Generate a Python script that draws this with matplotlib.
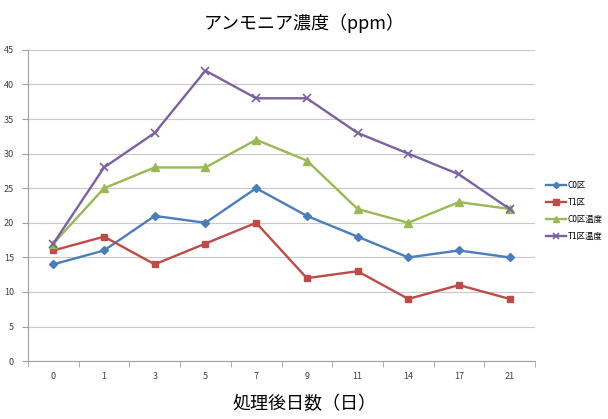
import matplotlib
matplotlib.use("Agg")
import matplotlib.pyplot as plt
import numpy as np

days = ["0", "1", "3", "5", "7", "9", "11", "14", "17", "21"]
c0 = [14, 16, 21, 20, 25, 21, 18, 15, 16, 15]
t1 = [16, 18, 14, 17, 20, 12, 13, 9, 11, 9]
c0_temp = [17, 25, 28, 28, 32, 29, 22, 20, 23, 22]
t1_temp = [17, 28, 33, 42, 38, 38, 33, 30, 27, 22]
series_names = ["C0区", "T1区", "C0区温度", "T1区温度"]
yticks = [0, 5, 10, 15, 20, 25, 30, 35, 40, 45]

plt.rcParams['font.family'] = ['Noto Sans CJK JP', 'DejaVu Sans']

fig = plt.figure(figsize=(6.08, 4.19), dpi=100)
ax = fig.add_axes([0.046, 0.138, 0.834, 0.743])

x = np.arange(len(days))
ax.plot(x, c0, color="#4A7EBB", marker="D", markersize=4, lw=1.7, label=series_names[0])
ax.plot(x, t1, color="#BE4B48", marker="s", markersize=5, lw=1.7, label=series_names[1])
ax.plot(x, c0_temp, color="#98B954", marker="^", markersize=6, lw=1.7, label=series_names[2])
ax.plot(x, t1_temp, color="#7D60A0", marker="x", markersize=6, mew=1.2, lw=1.7, label=series_names[3])

ax.set_xlim(-0.5, len(days) - 0.5)
ax.set_ylim(0, 45)
ax.set_yticks(yticks)
ax.set_yticklabels([str(v) for v in yticks], fontsize=6.5, color="#404040")
ax.set_xticks(x)
ax.set_xticklabels(days, fontsize=6.5, color="#404040")
ax.set_xticks(np.arange(-0.5, len(days), 1), minor=True)
ax.tick_params(axis='x', which='major', length=0, pad=8)
ax.tick_params(axis='x', which='minor', length=4, color="#A0A0A0", direction='out')
ax.tick_params(axis='y', length=4, color="#A0A0A0", pad=6)
ax.grid(axis='y', color="#C8C8C8", lw=0.8)
ax.set_axisbelow(True)
for s in ['top', 'right']:
    ax.spines[s].set_visible(False)
for s in ['left', 'bottom']:
    ax.spines[s].set_color("#A0A0A0")
    ax.spines[s].set_linewidth(0.8)

fig.text(0.5, 0.945, "アンモニア濃度（ppm）", ha='center', va='center', fontsize=13)
fig.text(0.5, 0.035, "処理後日数（日）", ha='center', va='center', fontsize=13)

leg = ax.legend(loc='center left', bbox_to_anchor=(546 / 608, 1 - 211 / 419),
                bbox_transform=fig.transFigure, frameon=False, borderpad=0,
                borderaxespad=0, fontsize=6, handlelength=2.4, labelspacing=0.95,
                handletextpad=0.2, markerscale=0.8)

fig.savefig("out.png", dpi=100)
